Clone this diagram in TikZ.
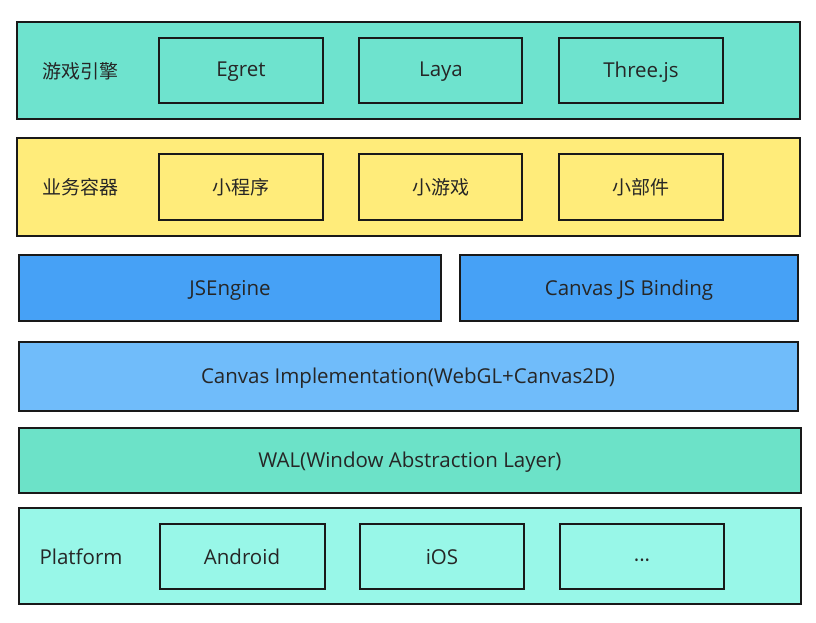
\documentclass[tikz,border=0pt]{standalone}
\usepackage{fontspec}
\setmainfont{Open Sans}
\newfontfamily\cjk{Noto Sans CJK SC}
\begin{document}
\begin{tikzpicture}[x=1pt,y=-1pt,
  layer/.style={draw=black!90,line width=2pt},
  inbox/.style={draw=black!90,line width=2pt},
  lbl/.style={font=\fontsize{20.5}{22}\selectfont,text=black!85},
  clbl/.style={font=\cjk\fontsize{19}{21}\selectfont,text=black!85}]
\definecolor{teal1}{RGB}{110,227,206}
\definecolor{yel}{RGB}{255,236,122}
\definecolor{blue1}{RGB}{70,161,246}
\definecolor{blue2}{RGB}{112,188,250}
\definecolor{teal2}{RGB}{108,226,200}
\definecolor{teal3}{RGB}{152,247,232}
\useasboundingbox (0,0) rectangle (816,622);
% Row 1
\draw[layer,fill=teal1] (17,22) rectangle (800,119);
\node[clbl] (l1) at (80,71) {游戏引擎};
\draw[inbox,fill=teal1] (159,38) rectangle (323,103);
\node[lbl] (egret) at (241,72) {Egret};
\draw[inbox,fill=teal1] (359,38) rectangle (522,103);
\node[lbl] (laya) at (441,72) {Laya};
\draw[inbox,fill=teal1] (559,38) rectangle (723,103);
\node[lbl] (three) at (641,72) {Three.js};
% Row 2
\draw[layer,fill=yel] (17,138) rectangle (800,236);
\node[clbl] (l2) at (80,187) {业务容器};
\draw[inbox,fill=yel] (159,154) rectangle (323,220);
\node[clbl] (mp) at (241,187) {小程序};
\draw[inbox,fill=yel] (359,154) rectangle (522,220);
\node[clbl] (mg) at (441,187) {小游戏};
\draw[inbox,fill=yel] (559,154) rectangle (723,220);
\node[clbl] (mw) at (641,187) {小部件};
% Row 3
\draw[layer,fill=blue1] (19,255) rectangle (441,321);
\node[lbl] (jse) at (230,290) {JSEngine};
\draw[layer,fill=blue1] (460,255) rectangle (798,321);
\node[lbl] (cjb) at (629,290) {Canvas JS Binding};
% Row 4
\draw[layer,fill=blue2] (19,342) rectangle (798,411);
\node[lbl] (ci) at (408,378) {Canvas Implementation(WebGL+Canvas2D)};
% Row 5
\draw[layer,fill=teal2] (19,428) rectangle (801,493);
\node[lbl] (wal) at (410,462) {WAL(Window Abstraction Layer)};
% Row 6
\draw[layer,fill=teal3] (19,508) rectangle (801,604);
\node[lbl] (l6) at (81,557) {Platform};
\draw[inbox,fill=teal3] (160,524) rectangle (325,589);
\node[lbl] (and) at (242,557) {Android};
\draw[inbox,fill=teal3] (360,524) rectangle (524,589);
\node[lbl] (ios) at (442,557) {iOS};
\draw[inbox,fill=teal3] (560,524) rectangle (724,589);
\node[lbl] (dots) at (642,563) {\textperiodcentered\textperiodcentered\textperiodcentered};
\end{tikzpicture}
\end{document}
